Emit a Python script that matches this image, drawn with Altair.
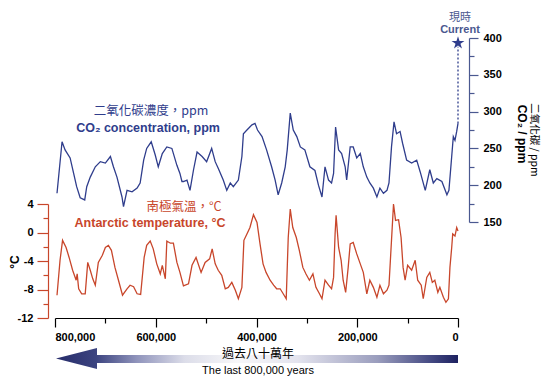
import altair as alt
import pandas as pd

# ---- data (ages in thousands of years before present) ----
co2_kyr = [796, 786, 780, 770, 763, 757, 750, 741, 737, 730, 720, 710, 700, 690, 684, 677, 667, 664,
           657, 647, 637, 631, 624, 618, 609, 601, 595, 587, 578, 568, 558, 552, 548, 545, 538, 532,
           525, 518, 508, 499, 489, 482, 476, 466, 459, 452, 446, 436, 429, 426, 419, 409, 403, 398,
           389, 380, 370, 363, 357, 350, 343, 339, 333, 327, 320, 313, 304, 294, 284, 277, 270, 264,
           257, 251, 247, 243, 237, 231, 224, 221, 214, 208, 201, 194, 188, 181, 175, 168, 161, 155,
           148, 141, 137, 132, 127, 122, 115, 110, 102, 92, 82, 75, 65, 56, 49, 42, 32, 22, 18, 12.5,
           9.3, 6, 2.6, 0]
co2_ppm = [189, 259, 248, 237, 216, 198, 183, 180, 198, 211, 225, 232, 230, 239, 225, 211, 184, 171,
           193, 191, 196, 203, 234, 250, 259, 241, 225, 243, 252, 250, 227, 216, 205, 205, 207, 193,
           221, 245, 239, 232, 250, 232, 223, 207, 193, 203, 198, 207, 239, 270, 275, 282, 284, 275,
           266, 248, 225, 207, 187, 203, 225, 248, 298, 275, 266, 252, 248, 225, 220, 200, 184, 225,
           207, 203, 216, 279, 248, 243, 225, 207, 252, 252, 237, 243, 225, 211, 203, 196, 184, 196,
           189, 193, 203, 252, 286, 270, 273, 257, 234, 230, 234, 218, 193, 221, 203, 209, 205, 187,
           193, 239, 266, 261, 273, 284]

temp_kyr = [796, 790, 785, 778, 772, 765, 758, 756, 753, 747, 740, 735, 730, 725, 720, 714, 706, 700,
            694, 688, 681, 674, 666, 657, 651, 644, 637, 630, 623, 618, 611, 605, 598, 591, 587, 581,
            578, 571, 565, 558, 552, 545, 535, 528, 520, 510, 502, 493, 488, 482, 476, 469, 462, 456,
            449, 442, 436, 429, 425, 419, 413, 406, 399, 393, 387, 381, 373, 366, 360, 353, 347, 341,
            337, 333, 328, 321, 315, 308, 302, 295, 288, 282, 275, 270, 264, 257, 251, 247, 244, 242,
            237, 232, 228, 223, 218, 214, 208, 201, 194, 188, 181, 175, 168, 161, 155, 148, 141, 137,
            132, 128, 124, 118, 113, 109, 105, 100, 92, 85, 80, 73, 69, 62, 56, 51, 46, 40, 36, 29,
            24, 19, 16, 12.5, 10.5, 6, 2.6, 0]
temp_c = [-8.8, -3.9, -1.1, -2.1, -3.5, -5.3, -6.7, -5.8, -7.9, -8.6, -8.6, -4.2, -5.3, -6.5, -7.4,
          -4.2, -3.2, -2.1, -1.8, -2.5, -4.9, -6.7, -8.8, -7.9, -7.4, -7.6, -8.6, -8.7, -3.5, -1.8,
          -1.2, -2.3, -4.4, -5.8, -4.6, -6.5, -1.2, -1.5, -1.5, -4.2, -5.6, -7.5, -7.2, -4.6, -3.5,
          -5.6, -4.2, -3.7, -2.3, -4.4, -5.3, -6.0, -7.9, -7.7, -7.0, -8.1, -9.3, -7.7, -1.1, -0.2,
          0.7, 2.5, 1.4, -1.6, -4.4, -5.6, -6.7, -7.4, -7.9, -7.9, -8.6, -9.3, -0.7, 3.3, 0.7, -0.7,
          -2.5, -4.9, -5.8, -6.7, -5.8, -7.7, -8.6, -9.3, -6.7, -7.4, -7.9, -6.3, -0.2, 2.4, -2.1,
          -3.9, -6.7, -8.4, -4.9, -1.6, -1.4, -3.0, -4.4, -5.6, -8.6, -6.7, -7.7, -9.1, -7.4, -8.6,
          -8.1, -7.4, -1.1, 4.0, 1.7, 1.8, -0.7, -4.9, -6.7, -4.6, -5.3, -3.9, -6.7, -7.4, -9.3, -6.3,
          -5.6, -7.0, -6.7, -8.4, -7.7, -9.1, -9.8, -9.3, -4.9, -2.1, -0.2, -0.5, 0.7, 0.2]

current_co2 = 400  # "現時 Current"

x_ticks = [0, 100000, 200000, 300000, 400000, 500000, 600000, 700000, 800000]
co2_ticks = [150, 175, 200, 225, 250, 275, 300, 325, 350, 375, 400]
temp_ticks = [4, 2, 0, -2, -4, -6, -8, -10, -12]

# ---- tables ----
co2_df = pd.DataFrame({"year": [k * 1000 for k in co2_kyr], "co2": co2_ppm})
temp_df = pd.DataFrame({"year": [k * 1000 for k in temp_kyr], "temp": temp_c})
star_df = pd.DataFrame({"year": [0], "co2": [current_co2]})
rule_df = pd.DataFrame({"year": [0], "co2": [co2_ppm[-1]], "co2b": [current_co2 - 12]})

NAVY = "#2f3d8c"
NAVY_AX = "#4a5890"
RED = "#c8462b"
FONT = "Liberation Sans, Arial, Noto Sans CJK TC"
CJK = "Noto Sans CJK TC, Liberation Sans"

W, H = 403, 310

x_enc = alt.X("year:Q",
              scale=alt.Scale(domain=[800000, 0], range=[0, W], nice=False, zero=False),
              axis=alt.Axis(values=x_ticks, title=None, domainColor="black", tickColor="black",
                            labelExpr="datum.value % 200000 === 0 ? format(datum.value, ',') : ''",
                            tickSize={"condition": {"test": "datum.value % 200000 === 0", "value": 9}, "value": 5},
                            labelPadding=4, labelFontSize=11, labelFontWeight="bold", labelColor="black",
                            domainWidth=1.2, tickWidth=1.2))

co2_scale = alt.Scale(domain=[150, 400], range=[214, 30], nice=False, zero=False)
co2_axis = alt.Axis(orient="right", offset=11, values=co2_ticks, title=None,
                    domainColor=NAVY_AX, tickColor=NAVY_AX, domainWidth=1.2, tickWidth=1.2,
                    labelExpr="datum.value % 50 === 0 ? '' + datum.value : ''",
                    tickSize={"condition": {"test": "datum.value % 50 === 0", "value": 9}, "value": 5},
                    labelPadding=5, labelFontSize=11, labelFontWeight="bold", labelColor="black")

temp_scale = alt.Scale(domain=[-12, 4], range=[310, 196], nice=False, zero=False)
temp_axis = alt.Axis(orient="left", offset=7, values=temp_ticks, title=None,
                     domainColor=RED, tickColor=RED, domainWidth=1.2, tickWidth=1.2,
                     labelExpr="datum.value % 4 === 0 ? '' + datum.value : ''",
                     tickSize={"condition": {"test": "datum.value % 4 === 0", "value": 11}, "value": 5},
                     labelPadding=4, labelFontSize=11, labelFontWeight="bold", labelColor="black")

co2_line = alt.Chart(co2_df).mark_line(color=NAVY, strokeWidth=1.3).encode(
    x=x_enc, y=alt.Y("co2:Q", scale=co2_scale, axis=co2_axis))

star_path = ("M0,-1L0.2245,-0.309L0.951,-0.309L0.363,0.118L0.588,0.809L0,0.382"
             "L-0.588,0.809L-0.363,0.118L-0.951,-0.309L-0.2245,-0.309Z")
star = alt.Chart(star_df).mark_point(shape=star_path, filled=True, size=185, color=NAVY,
                                     opacity=1, yOffset=5).encode(
    x=x_enc, y=alt.Y("co2:Q", scale=co2_scale, axis=co2_axis))

dotted = alt.Chart(rule_df).mark_rule(color=NAVY, strokeDash=[2, 2], strokeWidth=1.3).encode(
    x=x_enc, y=alt.Y("co2:Q", scale=co2_scale, axis=co2_axis), y2="co2b:Q")

co2_layer = alt.layer(dotted, co2_line, star)

temp_line = alt.Chart(temp_df).mark_line(color=RED, strokeWidth=1.3).encode(
    x=x_enc, y=alt.Y("temp:Q", scale=temp_scale, axis=temp_axis))

one = pd.DataFrame({"a": [0]})


def label(text, x, y, size=12, weight="normal", color="black", font=FONT, angle=0):
    return alt.Chart(one).mark_text(fontSize=size, fontWeight=weight, color=color, font=font,
                                    align="center", baseline="middle", angle=angle).encode(
        x=alt.value(x), y=alt.value(y), text=alt.value(text))


# arrow (decorative, pixel space)
arrow_df = pd.DataFrame({"px": [1, 42, 42.01, W], "py": [350.5, 340, 347, 347],
                         "py2": [350.5, 361, 355, 355]})
grad = alt.LinearGradient(gradient="linear", x1=0, x2=1, y1=0, y2=0, stops=[
    alt.GradientStop(color="#262c6a", offset=0),
    alt.GradientStop(color="#3c4480", offset=0.1),
    alt.GradientStop(color="#8f93bb", offset=0.2),
    alt.GradientStop(color="#dcdde9", offset=0.32),
    alt.GradientStop(color="#f7f7f9", offset=0.45),
    alt.GradientStop(color="#e4e4ee", offset=0.6),
    alt.GradientStop(color="#9a9dbd", offset=0.8),
    alt.GradientStop(color="#464b84", offset=0.93),
    alt.GradientStop(color="#1d2160", offset=1),
])
arrow = alt.Chart(arrow_df).mark_area(color=grad, interpolate="linear").encode(
    x=alt.X("px:Q", scale=None, axis=None),
    y=alt.Y("py:Q", scale=None, axis=None), y2="py2:Q")

labels = [
    label("現時", 405, 10, size=11, color=NAVY_AX, font=CJK),
    label("Current", 405, 22, size=11, weight="bold", color=NAVY_AX),
    label("二氧化碳濃度，ppm", 96, 103, size=12.5, color=NAVY, font=CJK),
    label("CO₂ concentration, ppm", 93, 120, size=12.5, weight="bold", color=NAVY),
    label("南極氣溫，°C", 129, 199, size=12.5, color=RED, font=CJK),
    label("Antarctic temperature, °C", 95, 215, size=12.5, weight="bold", color=RED),
    label("°C", -40, 254, size=12, weight="bold", angle=270),
    label("CO₂ / ppm", 467, 126, size=12, weight="bold", angle=90),
    label("二氧化碳 / ppm", 479, 132, size=10.5, font=CJK, angle=90),
    label("過去八十萬年", 203, 346, size=12, font=CJK),
    label("The last 800,000 years", 203, 363, size=11),
]

chart = alt.layer(co2_layer, temp_line, arrow, *labels).resolve_scale(y="independent").properties(
    width=W, height=H,
    autosize=alt.AutoSizeParams(type="none"),
    padding={"left": 47, "top": 0, "right": 84, "bottom": 58},
).configure_view(stroke=None).configure_axis(grid=False, labelFont="Liberation Sans")

chart.save("out.html", embed_options={"renderer": "svg", "actions": False})
